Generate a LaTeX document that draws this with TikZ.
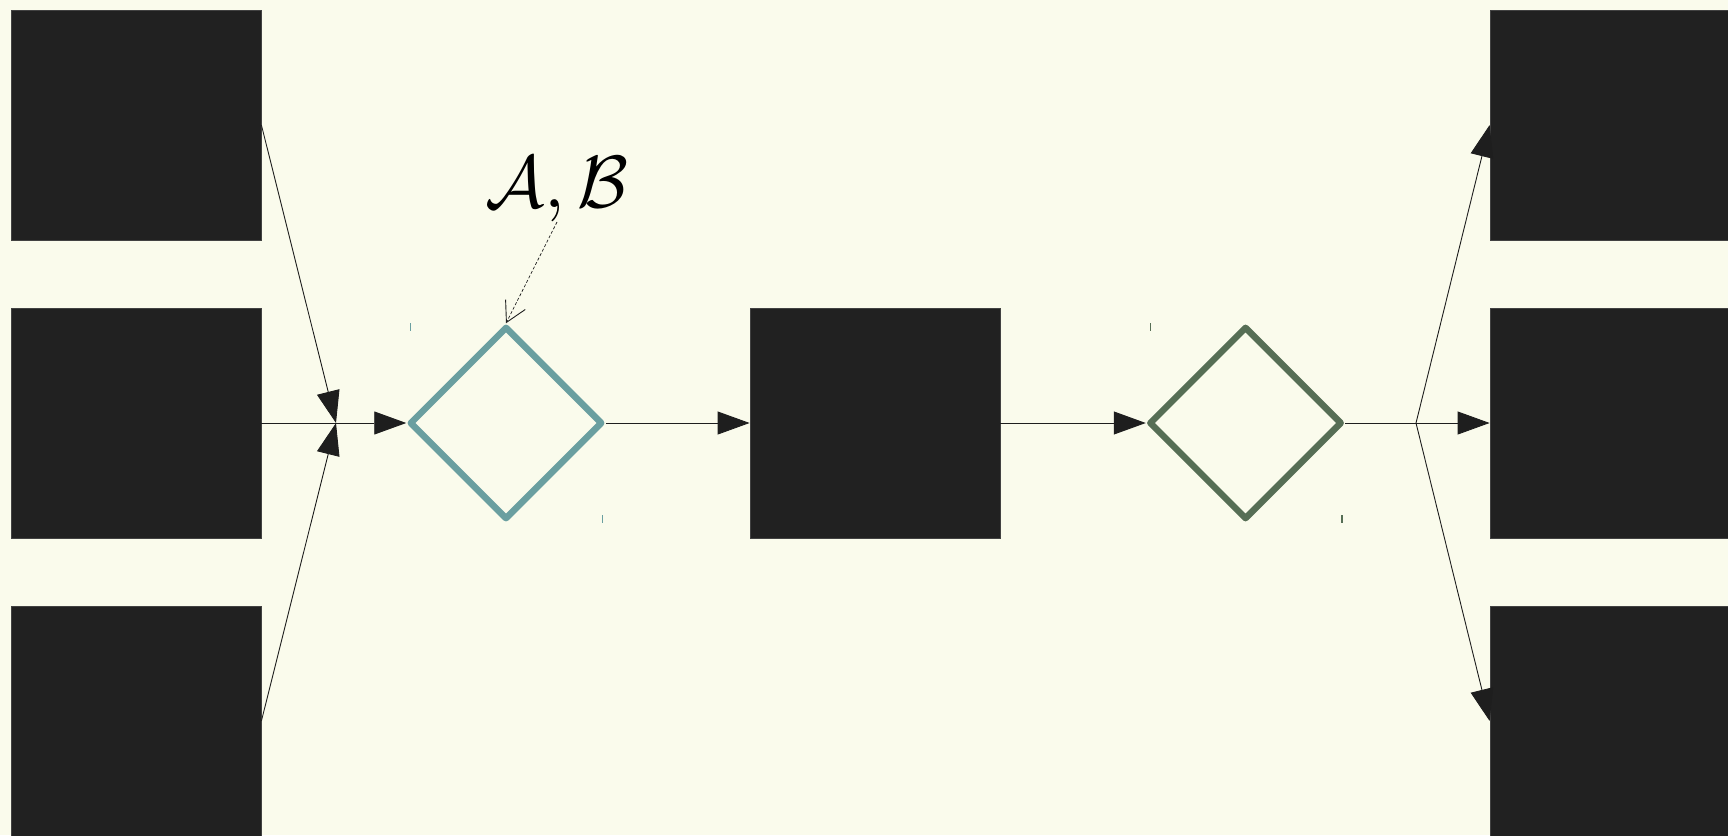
\documentclass[tikz,border=0pt]{standalone}
\usepackage{graphicx}
\usetikzlibrary{arrows.meta,shapes.geometric}
\definecolor{bgc}{RGB}{250,251,236}
\definecolor{boxc}{RGB}{33,33,33}
\definecolor{tealc}{RGB}{106,159,160}
\definecolor{greenc}{RGB}{86,110,85}
\definecolor{linec}{RGB}{30,30,30}
\begin{document}
\begin{tikzpicture}[x=1pt,y=-1pt,
  blk/.style={rectangle,fill=boxc,draw=boxc!85!white,line width=0.8pt,minimum width=250pt,minimum height=230pt,inner sep=0pt},
  gate/.style={diamond,aspect=1,minimum width=193pt,minimum height=193pt,inner sep=0pt,line width=6.5pt,line join=round,fill=none},
  conn/.style={draw=linec,line width=0.9pt},
  arr/.style={conn,-{Triangle[length=32pt,width=23pt]}},
  tickmark/.style={line width=1.2pt}
]
\useasboundingbox (0,0) rectangle (1728,835);
\fill[bgc] (0,0) rectangle (1728,835);
\clip (0,0) rectangle (1728,835);

\node[blk] (L1) at (136,125) {};
\node[blk] (L2) at (136,423) {};
\node[blk] (L3) at (136,721) {};
\node[blk] (M)  at (875,423) {};
\node[blk] (R1) at (1615,125) {};
\node[blk] (R2) at (1615,423) {};
\node[blk] (R3) at (1615,721) {};

\node[gate,draw=tealc] (d1) at (506,423) {};
\node[gate,draw=greenc] (d2) at (1245.5,423) {};

\draw[tickmark,tealc] (410.7,323) -- (410.7,331);
\draw[tickmark,tealc] (602.7,515) -- (602.7,523);
\draw[tickmark,greenc] (1150.7,323) -- (1150.7,331);
\draw[tickmark,greenc] (1342,515) -- (1342,523);

\coordinate (j1) at (336,423);
\coordinate (j2) at (1416,423);

\draw[arr] (L1.east) -- (j1);
\draw[arr] (L3.east) -- (j1);
\draw[conn] (L2.east) -- (j1);
\draw[arr] (j1) -- (d1.west);
\draw[arr] (d1.east) -- (M.west);
\draw[arr] (M.east) -- (d2.west);
\draw[conn] (d2.east) -- (j2);
\draw[arr] (j2) -- (R1.west);
\draw[arr] (j2) -- (R2.west);
\draw[arr] (j2) -- (R3.west);

\node[inner sep=0pt,anchor=south] (lab) at (557,222) {\scalebox{7.4}{$\mathcal{A},\mathcal{B}$}};
\draw[conn,line width=0.7pt,dash pattern=on 3pt off 2pt,-{Straight Barb[length=20pt,width=22pt,line width=0.9pt]}] (lab.south) -- (d1.north);
\end{tikzpicture}
\end{document}
